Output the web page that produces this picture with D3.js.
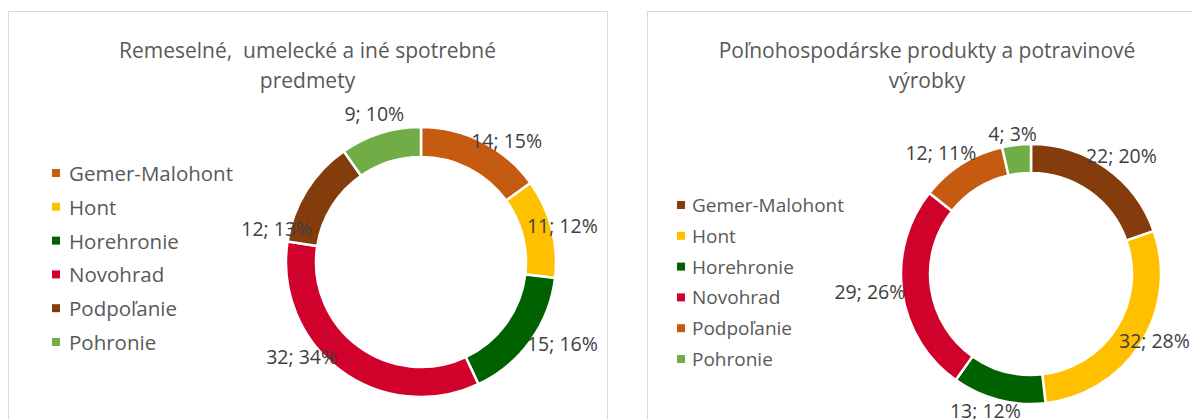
<!DOCTYPE html>
<html>
<head>
<meta charset="utf-8">
<script src="https://cdn.jsdelivr.net/npm/d3@7"></script>
<style>
  body { margin: 0; background: #fff; }
  text { font-family: "Open Sans", sans-serif; white-space: pre; }
</style>
</head>
<body>
<div id="chart"></div>
<script>
// regions (legend order = slice order, clockwise from 12 o'clock)
var regions = ["Gemer-Malohont", "Hont", "Horehronie", "Novohrad", "Podpoľanie", "Pohronie"];

// chart 1
var craftsTitle = ["Remeselné,  umelecké a iné spotrebné", "predmety"];
var craftsValues = [14, 11, 15, 32, 12, 9];
var craftsPercents = ["15%", "12%", "16%", "34%", "13%", "10%"];
var craftsColors = ["#C55A11", "#FFC000", "#006100", "#D0022B", "#843C0C", "#70AD47"];

// chart 2
var foodTitle = ["Poľnohospodárske produkty a potravinové", "výrobky"];
var foodValues = [22, 32, 13, 29, 12, 4];
var foodPercents = ["20%", "28%", "12%", "26%", "11%", "3%"];
var foodColors = ["#843C0C", "#FFC000", "#006100", "#D0022B", "#C55A11", "#70AD47"];

var width = 1192, height = 419;

var svg = d3.select("#chart")
    .append("svg")
    .attr("width", width)
    .attr("height", height);

function draw_donut(cfg) {

    var g = svg.append("g");

    // panel frame
    g.append("rect")
        .attr("x", cfg.panel.x + 0.5)
        .attr("y", cfg.panel.y + 0.5)
        .attr("width", cfg.panel.w)
        .attr("height", cfg.panel.h)
        .attr("fill", "#fff")
        .attr("stroke", "#D9D9D9")
        .attr("stroke-width", 1);

    // title
    var cxPanel = cfg.panel.x + cfg.panel.w / 2;
    g.selectAll(".title")
        .data(cfg.title)
        .enter()
        .append("text")
        .attr("class", "title")
        .attr("x", cxPanel)
        .attr("y", function(d, i) { return cfg.titleY + i * cfg.titleStep; })
        .attr("text-anchor", "middle")
        .attr("dominant-baseline", "central")
        .style("font-size", cfg.titleSize + "px")
        .style("fill", "#595959")
        .text(function(d) { return d; });

    var data = regions.map(function(r, i) {
        return { region: r, value: cfg.values[i], pct: cfg.percents[i], color: cfg.colors[i] };
    });

    var pie = d3.pie()
        .sort(null)
        .value(function(d) { return d.value; });

    var arc = d3.arc()
        .innerRadius(cfg.inner)
        .outerRadius(cfg.outer);

    var slices = pie(data);

    var donut = g.append("g")
        .attr("transform", "translate(" + cfg.cx + "," + cfg.cy + ")");

    donut.selectAll("path")
        .data(slices)
        .enter()
        .append("path")
        .attr("d", arc)
        .attr("fill", function(d) { return d.data.color; })
        .attr("stroke", "#fff")
        .attr("stroke-width", 2.5);

    // data labels, dragged off the ring like in the original sheet
    donut.selectAll(".lbl")
        .data(slices)
        .enter()
        .append("text")
        .attr("class", "lbl")
        .attr("x", function(d, i) {
            var a = (d.startAngle + d.endAngle) / 2 + cfg.labelShift[i][0] * Math.PI / 180;
            return cfg.labelShift[i][1] * Math.sin(a);
        })
        .attr("y", function(d, i) {
            var a = (d.startAngle + d.endAngle) / 2 + cfg.labelShift[i][0] * Math.PI / 180;
            return -cfg.labelShift[i][1] * Math.cos(a);
        })
        .attr("text-anchor", "middle")
        .attr("dominant-baseline", "central")
        .style("font-size", cfg.labelSize + "px")
        .style("fill", "#404040")
        .text(function(d) { return d.data.value + "; " + d.data.pct; });

    // legend
    var legend = g.selectAll(".legend")
        .data(data)
        .enter()
        .append("g")
        .attr("class", "legend")
        .attr("transform", function(d, i) {
            return "translate(" + cfg.legend.x + "," + (cfg.legend.y + i * cfg.legend.step) + ")";
        });

    legend.append("rect")
        .attr("x", 0)
        .attr("y", -4)
        .attr("width", 8)
        .attr("height", 8)
        .attr("fill", function(d) { return d.color; });

    legend.append("text")
        .attr("x", cfg.legend.gap)
        .attr("y", 0)
        .attr("dominant-baseline", "central")
        .style("font-size", cfg.legend.size + "px")
        .style("fill", "#595959")
        .text(function(d) { return d.region; });
}

draw_donut({
    panel: { x: 8, y: 11, w: 599, h: 440 },
    title: craftsTitle, titleY: 50, titleStep: 30, titleSize: 21,
    values: craftsValues, percents: craftsPercents, colors: craftsColors,
    cx: 421, cy: 262, outer: 135, inner: 105,
    labelSize: 19.5,
    labelShift: [[8, 149], [0, 146], [-6, 163], [15, 152], [-19, 148], [0, 156]],
    legend: { x: 52, y: 173, step: 33.8, gap: 17, size: 20.5 }
});

draw_donut({
    panel: { x: 647, y: 11, w: 560, h: 440 },
    title: foodTitle, titleY: 50, titleStep: 30, titleSize: 21,
    values: foodValues, percents: foodPercents, colors: foodColors,
    cx: 1031, cy: 274, outer: 130, inner: 101,
    labelSize: 19.5,
    labelShift: [[2, 149], [-4, 140], [4, 144], [2, 162], [-4.5, 151], [-1, 142]],
    legend: { x: 677, y: 205, step: 30.8, gap: 15, size: 19 }
});
</script>
</body>
</html>
